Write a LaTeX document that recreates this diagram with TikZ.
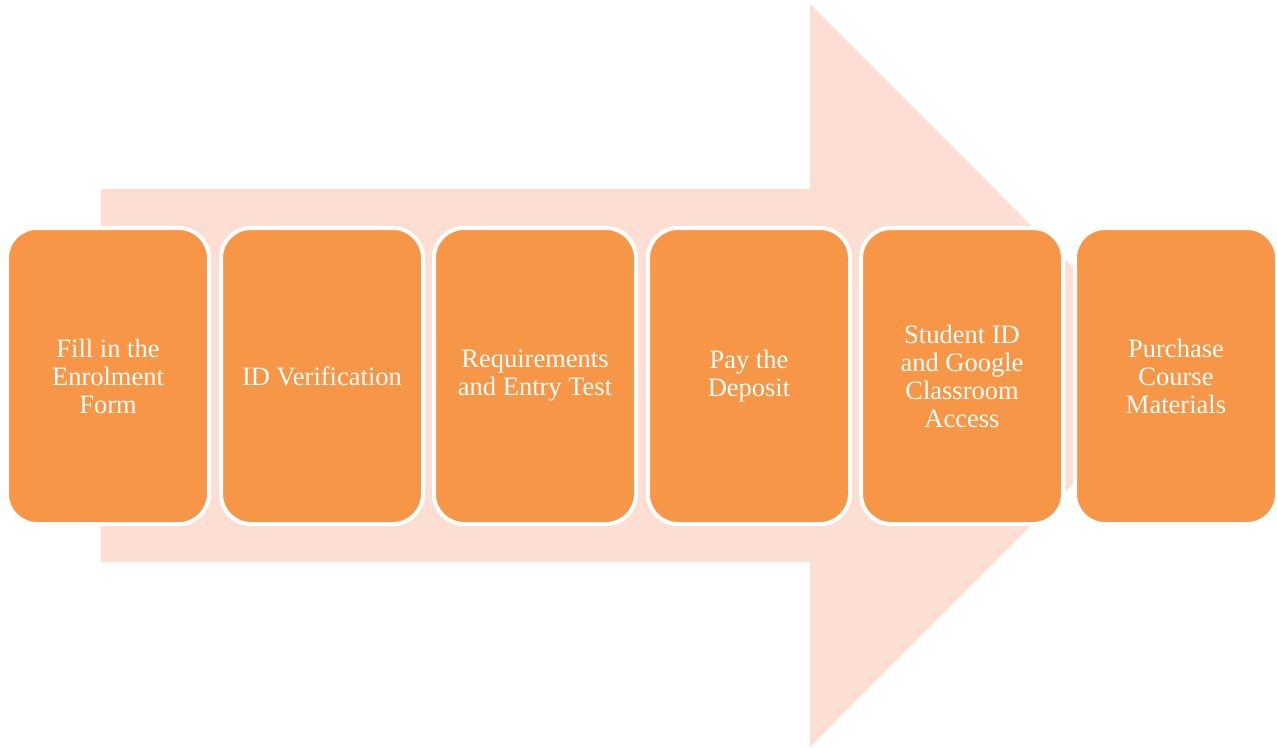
\documentclass[tikz,border=0pt]{standalone}
\usepackage{fontspec}
\setmainfont{Liberation Serif}
\definecolor{boxorange}{HTML}{F79646}
\definecolor{arrowpink}{HTML}{FCDED3}
\tikzset{
  stepbox/.style={fill=boxorange, draw=white, line width=4pt, rounded corners=30pt,
    minimum width=202pt, minimum height=296pt, align=center, text=white,
    font=\fontsize{26.5}{28}\selectfont, inner sep=0pt}
}
\begin{document}
\begin{tikzpicture}[x=1pt,y=-1pt]
\useasboundingbox (0,0) rectangle (1277,748);
\fill[arrowpink] (101,189) -- (810,189) -- (810,4) -- (1181,375.5) -- (810,747) -- (810,562) -- (101,562) -- cycle;
\node[stepbox] (b1) at (108,376) {Fill in the\\Enrolment\\Form};
\node[stepbox] (b2) at (322,376) {ID Verification};
\node[stepbox] (b3) at (535,376) {Requirements\\and Entry Test};
\node[stepbox] (b4) at (749,376) {Pay the\\Deposit};
\node[stepbox] (b5) at (962,376) {Student ID\\and Google\\Classroom\\Access};
\node[stepbox] (b6) at (1176,376) {Purchase\\Course\\Materials};
\end{tikzpicture}
\end{document}
